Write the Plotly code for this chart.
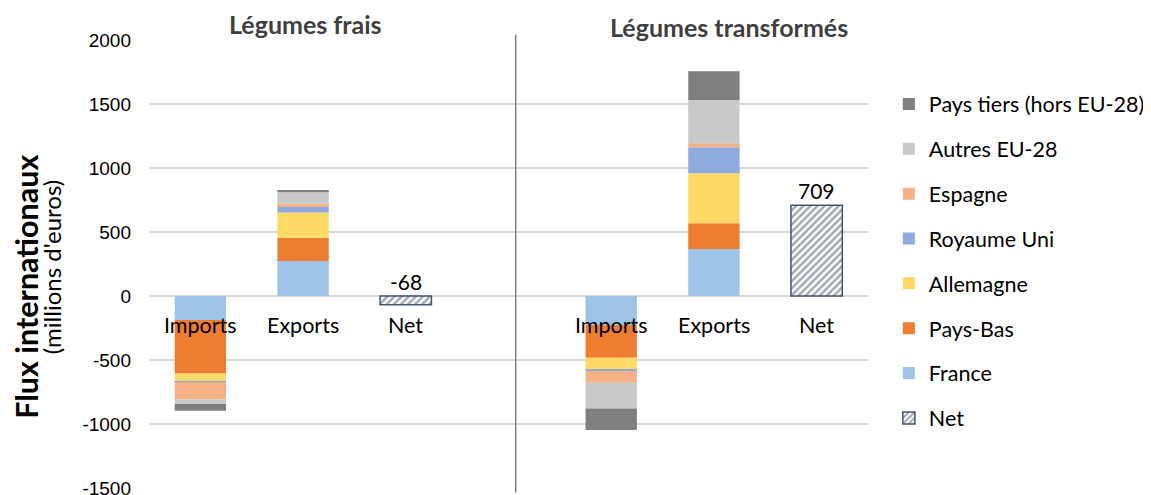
import plotly.graph_objects as go

# ---- data ----
categories = ["Imports", "Exports", "Net", "", "Imports", "Exports", "Net"]
slot_index = [0, 1, 2, 3, 4, 5, 6]
flow_slots = [0, 1, 4, 5]          # Imports/Exports for frais, then transformés
net_slots = [2, 6]
groups = ["Légumes frais", "Légumes transformés"]

partners = ["France", "Pays-Bas", "Allemagne", "Royaume Uni", "Espagne",
            "Autres EU-28", "Pays tiers (hors EU-28)"]
colors = ["#9DC3E6", "#ED7D31", "#FFD966", "#8FAADC", "#F4B183", "#C9C9C9", "#7F7F7F"]

# values per partner: [frais imports, frais exports, transf imports, transf exports]
france = [-188, 273, -227, 367]
pays_bas = [-417, 182, -255, 201]
allemagne = [-60, 198, -89, 391]
royaume_uni = [-8, 42, -15, 203]
espagne = [-135, 26, -91, 31]
autres = [-35, 89, -201, 339]
pays_tiers = [-53, 18, -168, 223]
net_values = [-68, 709]

series = [france, pays_bas, allemagne, royaume_uni, espagne, autres, pays_tiers]
y_ticks = [-1500, -1000, -500, 0, 500, 1000, 1500, 2000]
y_tick_labels = ["-1500", "-1000", "-500", "0", "500", "1000", "1500", "2000"]
y_title_bold = "Flux internationaux"
y_title_unit = "(millions d'euros)"

FONT = "Lato"
fig = go.Figure()
n = len(partners)
for i, (name, vals, col) in enumerate(zip(partners, series, colors)):
    fig.add_trace(go.Bar(
        x=flow_slots, y=vals, name=name, marker=dict(color=col, line=dict(width=0)),
        width=0.5, legendgroup=name, legendrank=n - i,
    ))
fig.add_trace(go.Bar(
    x=net_slots, y=net_values, name="Net", width=0.5, legendgroup="Net", legendrank=n + 1,
    marker=dict(color="white", line=dict(color="#44546A", width=1.5),
                pattern=dict(shape="/", fgcolor="#44546A", bgcolor="white", size=5, solidity=0.5)),
))

annotations = []
# category labels under the zero line
for s, c in zip(slot_index, categories):
    if c:
        annotations.append(dict(x=s, y=0, xref="x", yref="y", text=c, showarrow=False,
                                yanchor="middle", yshift=-29,
                                font=dict(family=FONT, size=21.5, color="#000000")))
# net value labels
for s, v in zip(net_slots, net_values):
    annotations.append(dict(x=s, y=max(v, 0), xref="x", yref="y", text=str(v), showarrow=False,
                            yanchor="bottom", yshift=0,
                            font=dict(family=FONT, size=21, color="#000000")))
# group titles
for gx, g, ys in zip([1.02, 5.15], groups, [16, 13]):
    annotations.append(dict(x=gx, y=1.0, xref="x", yref="paper", text="<b>%s</b>" % g,
                            showarrow=False, yanchor="middle", yshift=ys,
                            font=dict(family=FONT, size=25, color="#404040")))
# y-axis title (two lines, rotated)
annotations.append(dict(x=0, y=0.449, xref="paper", yref="paper", text="<b>%s</b>" % y_title_bold,
                        showarrow=False, textangle=-90, xanchor="center", yanchor="middle",
                        xshift=-123, font=dict(family=FONT, size=30.5, color="#000000")))
annotations.append(dict(x=0, y=0.493, xref="paper", yref="paper", text=y_title_unit,
                        showarrow=False, textangle=-90, xanchor="center", yanchor="middle",
                        xshift=-98, font=dict(family=FONT, size=24, color="#000000")))

# the page body adds an 8px offset; margins compensate for it
fig.update_layout(
    width=1151, height=495,
    margin=dict(l=141, r=291, t=32, b=15, autoexpand=False),
    paper_bgcolor="white", plot_bgcolor="white",
    barmode="relative",
    annotations=annotations,
    shapes=[dict(type="line", xref="x", yref="paper", x0=3.07, x1=3.07, y0=-0.01, y1=1.012,
                 line=dict(color="#7F7F7F", width=1.5))],
    legend=dict(x=1.029, xanchor="left", y=0.903, yanchor="top",
                font=dict(family=FONT, size=21.5, color="#000000"),
                tracegroupgap=13.9, itemwidth=30, bgcolor="rgba(0,0,0,0)"),
    showlegend=True,
)
fig.update_xaxes(range=[-0.5, 6.5], showticklabels=False, showgrid=False, zeroline=False,
                 showline=False, ticks="")
fig.update_yaxes(range=[-1500, 2000], tickvals=y_ticks, ticktext=y_tick_labels,
                 showgrid=True, gridcolor="#D9D9D9",
                 gridwidth=1.5, zeroline=True, zerolinecolor="#D9D9D9", zerolinewidth=1.5,
                 showline=False, ticks="", ticklen=0, automargin=False, ticklabelstandoff=17,
                 tickfont=dict(family="Liberation Sans", size=19, color="#000000"))

fig.write_html("out.html")
